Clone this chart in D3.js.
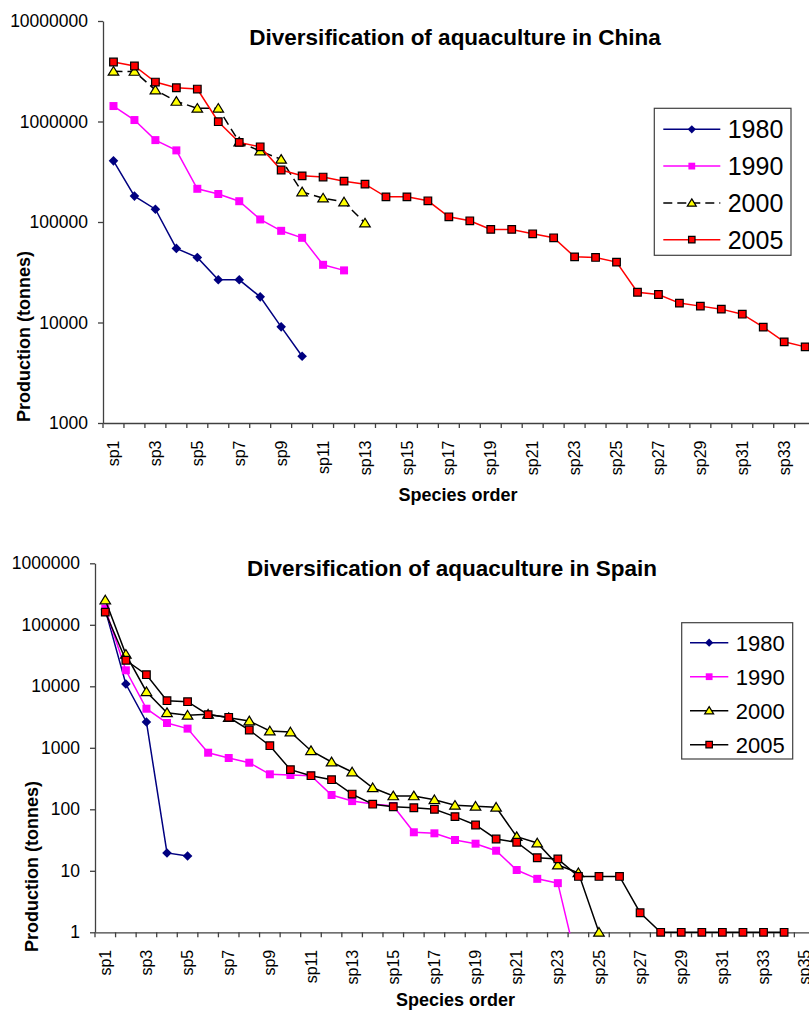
<!DOCTYPE html>
<html>
<head>
<meta charset="utf-8">
<script src="https://cdn.jsdelivr.net/npm/d3@7"></script>
<style>
body { margin: 0; background: #fff; }
svg { display: block; font-family: "Liberation Sans", Arial, sans-serif; }
</style>
</head>
<body>
<svg width="809" height="1010"></svg>
<script>
var chinaSpecies = ["sp1", "sp2", "sp3", "sp4", "sp5", "sp6", "sp7", "sp8", "sp9", "sp10",
    "sp11", "sp12", "sp13", "sp14", "sp15", "sp16", "sp17", "sp18", "sp19", "sp20",
    "sp21", "sp22", "sp23", "sp24", "sp25", "sp26", "sp27", "sp28", "sp29", "sp30",
    "sp31", "sp32", "sp33", "sp34"];

var spainSpecies = ["sp1", "sp2", "sp3", "sp4", "sp5", "sp6", "sp7", "sp8", "sp9", "sp10",
    "sp11", "sp12", "sp13", "sp14", "sp15", "sp16", "sp17", "sp18", "sp19", "sp20",
    "sp21", "sp22", "sp23", "sp24", "sp25", "sp26", "sp27", "sp28", "sp29", "sp30",
    "sp31", "sp32", "sp33", "sp34", "sp35"];

var years = ["1980", "1990", "2000", "2005"];

var chinaTicks = [1000, 10000, 100000, 1000000, 10000000];
var spainTicks = [1, 10, 100, 1000, 10000, 100000, 1000000];

// Production (tonnes)
var china1980 = [406000, 181000, 134000, 54600, 44400, 26600, 26600, 18000, 9050, 4620];
var china1990 = [1425000, 1034000, 653000, 516000, 214000, 190000, 161000, 106000, 81700, 69600, 37500, 33000];
var china2000 = [3155000, 3150000, 2056000, 1585000, 1352000, 1352000, 625000, 508000, 420000, 199000,
    173000, 158000, 97500];
var china2005 = [3907000, 3565000, 2470000, 2168000, 2104000, 995000, 620000, 560000, 329000, 288000,
    280000, 255000, 238000, 178000, 178000, 162600, 112700, 102800, 84400, 84400,
    76300, 69600, 45000, 44400, 39900, 20000, 19000, 15600, 14550, 13580,
    12100, 8990, 6420, 5720];

var spain1980 = [175000, 10900, 2630, 19.5, 17.4];
var spain1990 = [183000, 18200, 4320, 2530, 2050, 832, 682, 572, 371, 361,
    352, 171, 136, 122, 113, 42.3, 40.7, 31.7, 27.6, 21.2,
    10.3, 7.4, 6.3, 0.25];
var spain2000 = [253000, 33100, 8170, 3720, 3380, 3510, 3090, 2730, 1875, 1806,
    897, 588, 404, 224, 165, 165, 143, 116, 112, 108,
    35.9, 28.3, 12.4, 9.3, 1];
var spain2005 = [161000, 26500, 15440, 5830, 5620, 3450, 3130, 1946, 1082, 441,
    352, 303, 177, 121, 110, 106, 100, 75.9, 55.6, 32.9,
    29.1, 16.3, 15.6, 8.1, 8.1, 8.1, 2.08, 1, 1, 1,
    1, 1, 1, 1];

function markerPath(shape, r) {
    if (shape === "diamond") {
        return "M0," + (-r) + "L" + r + ",0L0," + r + "L" + (-r) + ",0Z";
    } else if (shape === "square") {
        return "M" + (-r) + "," + (-r) + "h" + (2 * r) + "v" + (2 * r) + "h" + (-2 * r) + "Z";
    }
    // triangle
    return "M0," + (-r) + "L" + (r * 1.1) + "," + (r * 0.8) + "L" + (-r * 1.1) + "," + (r * 0.8) + "Z";
}

var svg = d3.select("svg");

function DrawChart(cfg) {
    var g = svg.append("g");

    var xScale = d3.scaleBand()
        .domain(cfg.categories)
        .range([cfg.left, cfg.left + cfg.categories.length * cfg.step]);
    var yScale = d3.scaleLog()
        .domain([cfg.yTicks[0], cfg.yTicks[cfg.yTicks.length - 1]])
        .range([cfg.bottom, cfg.top]);
    var xMid = d => xScale(d) + xScale.bandwidth() / 2;

    // Title
    g.append("text")
        .attr("x", cfg.titleX)
        .attr("y", cfg.titleY)
        .attr("text-anchor", "middle")
        .style("font-weight", "bold")
        .style("font-size", "22.5px")
        .text(cfg.title);

    // Y axis
    var yAxis = g.append("g")
        .attr("transform", "translate(" + cfg.left + ",0)")
        .call(d3.axisLeft(yScale)
            .tickValues(cfg.yTicks)
            .tickFormat(d3.format("d"))
            .tickSizeInner(5)
            .tickSizeOuter(0)
            .tickPadding(10));
    yAxis.selectAll("text").style("font-size", "17.5px").attr("fill", "#000");
    yAxis.selectAll("line, path").attr("stroke", "#404040").attr("stroke-width", 1.3);

    // X axis, labels on every other species
    var xAxis = g.append("g")
        .attr("transform", "translate(0," + cfg.bottom + ")")
        .call(d3.axisBottom(xScale)
            .tickValues(cfg.categories.filter((d, i) => i % 2 === 0))
            .tickSizeInner(0)
            .tickSizeOuter(0));
    xAxis.select("path").attr("stroke", "#404040").attr("stroke-width", 1.3);
    xAxis.selectAll("text")
        .attr("transform", "rotate(-90)")
        .attr("x", -17.5)
        .attr("y", 0)
        .attr("dy", "0.35em")
        .attr("fill", "#000")
        .style("text-anchor", "end")
        .style("font-size", "16px");

    // Tick marks between the species
    var bounds = cfg.categories.map(d => xScale(d)).concat([xScale.range()[1]]);
    g.append("g")
        .selectAll("line")
        .data(bounds)
        .join("line")
        .attr("x1", d => d)
        .attr("x2", d => d)
        .attr("y1", cfg.bottom)
        .attr("y2", cfg.bottom + 5)
        .attr("stroke", "#404040")
        .attr("stroke-width", 1.3);

    // Axis titles
    g.append("text")
        .attr("transform", "translate(" + cfg.yLabelX + "," + cfg.yLabelY + ") rotate(-90)")
        .attr("text-anchor", "middle")
        .style("font-weight", "bold")
        .style("font-size", "18px")
        .text("Production (tonnes)");

    g.append("text")
        .attr("x", cfg.xLabelX)
        .attr("y", cfg.xLabelY)
        .attr("text-anchor", "middle")
        .style("font-weight", "bold")
        .style("font-size", "18px")
        .text("Species order");

    // Series
    var clipId = "clip" + cfg.name;
    g.append("clipPath")
        .attr("id", clipId)
        .append("rect")
        .attr("x", cfg.left)
        .attr("y", cfg.top - 10)
        .attr("width", 900)
        .attr("height", cfg.bottom - cfg.top + 11);

    var line = d3.line()
        .x(d => xMid(d.cat))
        .y(d => yScale(d.value));

    cfg.series.forEach(s => {
        var points = s.values.map((v, i) => ({ cat: cfg.categories[i], value: v }));

        g.append("path")
            .attr("d", line(points))
            .attr("clip-path", "url(#" + clipId + ")")
            .attr("fill", "none")
            .attr("stroke", s.line)
            .attr("stroke-width", 1.5)
            .attr("stroke-dasharray", s.dash);

        g.append("g")
            .selectAll("path")
            .data(points.filter(p => p.value >= cfg.yTicks[0]))
            .join("path")
            .attr("transform", p => "translate(" + xMid(p.cat) + "," + yScale(p.value) + ")")
            .attr("d", markerPath(s.shape, s.size))
            .attr("fill", s.fill)
            .attr("stroke", s.stroke)
            .attr("stroke-width", s.stroke === "none" ? 0 : 1.2);
    });

    // Legend
    var lg = cfg.legend;
    g.append("rect")
        .attr("x", lg.x)
        .attr("y", lg.y)
        .attr("width", lg.w)
        .attr("height", lg.h)
        .attr("fill", "#fff")
        .attr("stroke", "#404040")
        .attr("stroke-width", 1.2);

    var items = g.append("g")
        .selectAll("g")
        .data(cfg.series)
        .join("g")
        .attr("transform", (s, i) => "translate(" + lg.x + "," + (lg.firstRow + i * lg.rowStep) + ")");

    items.append("line")
        .attr("x1", lg.lineFrom)
        .attr("x2", lg.lineTo)
        .attr("stroke", s => s.line)
        .attr("stroke-width", 1.5)
        .attr("stroke-dasharray", s => s.dash);

    items.append("path")
        .attr("transform", "translate(" + (lg.lineFrom + lg.lineTo) / 2 + ",0)")
        .attr("d", s => markerPath(s.shape, s.size * 0.85))
        .attr("fill", s => s.fill)
        .attr("stroke", s => s.stroke)
        .attr("stroke-width", s => s.stroke === "none" ? 0 : 1.2);

    items.append("text")
        .attr("x", lg.textX)
        .attr("dy", "0.36em")
        .style("font-size", lg.fontSize)
        .text((s, i) => years[i]);
}

DrawChart({
    name: "china",
    title: "Diversification of aquaculture in China",
    titleX: 455, titleY: 45,
    categories: chinaSpecies,
    yTicks: chinaTicks,
    left: 103, step: 20.96, top: 21, bottom: 423,
    yLabelX: 29.5, yLabelY: 336.5,
    xLabelX: 458, xLabelY: 500.7,
    series: [
        { values: china1980, line: "#000080", fill: "#000080", stroke: "none", shape: "diamond", size: 4.8, dash: null },
        { values: china1990, line: "#ff00ff", fill: "#ff00ff", stroke: "none", shape: "square", size: 4, dash: null },
        { values: china2000, line: "#000", fill: "#ffff00", stroke: "#000", shape: "triangle", size: 4.8, dash: "9,5" },
        { values: china2005, line: "#ff0000", fill: "#ff0000", stroke: "#000", shape: "square", size: 3.8, dash: null }
    ],
    legend: { x: 654.3, y: 108.3, w: 136.7, h: 147, firstRow: 129.3, rowStep: 36.8,
        lineFrom: 9, lineTo: 66, textX: 73.4, fontSize: "25px" }
});

DrawChart({
    name: "spain",
    title: "Diversification of aquaculture in Spain",
    titleX: 452, titleY: 575.7,
    categories: spainSpecies,
    yTicks: spainTicks,
    left: 95, step: 20.57, top: 563.3, bottom: 932.3,
    yLabelX: 38, yLabelY: 866.5,
    xLabelX: 455.5, xLabelY: 1006,
    series: [
        { values: spain1980, line: "#000080", fill: "#000080", stroke: "none", shape: "diamond", size: 4.8, dash: null },
        { values: spain1990, line: "#ff00ff", fill: "#ff00ff", stroke: "none", shape: "square", size: 4, dash: null },
        { values: spain2000, line: "#000", fill: "#ffff00", stroke: "#000", shape: "triangle", size: 4.8, dash: null },
        { values: spain2005, line: "#000", fill: "#ff0000", stroke: "#000", shape: "square", size: 3.8, dash: null }
    ],
    legend: { x: 681.7, y: 622.7, w: 111, h: 136.3, firstRow: 642.7, rowStep: 34,
        lineFrom: 8.3, lineTo: 46.6, textX: 54, fontSize: "22px" }
});
</script>
</body>
</html>
